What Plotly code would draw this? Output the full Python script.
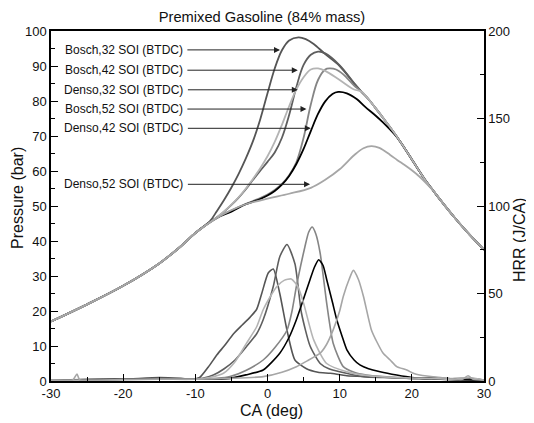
import plotly.graph_objects as go

# ---------------- data ----------------
# shared compression (motoring) part of the pressure traces
motoring_ca = [-30, -25, -20, -15, -12, -10]
motoring_p = [17.0, 21.9, 27.2, 33.6, 38.5, 42.3]

# shared expansion part of the pressure traces
expansion_ca = [13, 14, 15, 16, 17, 18, 19, 20, 21, 22, 23, 24, 26, 28, 30]
expansion_p = [82.7, 80.5, 77.9, 75.2, 72.4, 69.6, 66.5, 63.3, 60.1, 57.0, 54.3, 51.6, 46.5, 41.8, 37.5]

# combustion part of pressure traces (bar)
bosch32_p_ca = [-8, -7, -6, -5, -4, -3, -2, -1, 0, 1, 2, 3, 4.3, 5.3, 6.4, 8, 10, 12]
bosch32_p = [45.6, 48.6, 51.8, 55.3, 59.2, 63.6, 68.6, 74.8, 82.2, 89.3, 94.5, 97.3, 98.2, 97.7, 96.3, 93.4, 90.0, 85.0]

bosch42_p_ca = [-7, -6, -5, -4, -3, -2, -1, 0, 1, 2, 3, 4, 5, 6, 7, 8, 10, 12]
bosch42_p = [46.8, 48.4, 50.3, 52.4, 54.8, 57.5, 60.1, 62.6, 65.3, 69.5, 76.0, 84.0, 90.3, 93.2, 94.1, 93.6, 90.2, 85.1]

denso32_p_ca = [-7, -6, -5, -4, -3, -2, -1, 0, 1, 2, 3, 4, 5, 6, 7, 8, 10, 12]
denso32_p = [46.8, 48.5, 50.4, 52.5, 55.0, 57.8, 60.8, 64.2, 68.3, 73.2, 78.5, 83.3, 86.8, 89.0, 89.3, 88.6, 86.0, 83.3]

bosch52_p_ca = [-7, -5, -3, -1, 0, 1, 2, 3, 4, 5, 6, 7, 8, 8.6, 9.5, 10.5, 12]
bosch52_p = [46.7, 48.8, 50.6, 52.3, 53.3, 54.6, 56.3, 58.8, 62.5, 69.5, 79.0, 86.0, 89.0, 89.3, 89.0, 87.6, 84.4]

denso42_p_ca = [-7, -5, -3, -1, 0, 1, 2, 3, 4, 5, 6, 7, 8, 9, 9.8, 11, 12.4, 13.5, 15, 16, 17, 18]
denso42_p = [46.6, 48.4, 50.5, 52.0, 53.0, 54.3, 56.1, 58.6, 62.0, 66.3, 71.4, 76.3, 79.9, 82.0, 82.6, 82.2, 80.5,
             78.4, 75.8, 73.9, 71.8, 69.5]

denso52_p_ca = [-7, -5, -3, 0, 3, 6, 8, 10, 12, 13.3, 14.4, 15.5, 17, 18, 19, 20, 21, 22]
denso52_p = [46.6, 48.8, 50.5, 52.1, 53.5, 55.2, 57.5, 60.5, 64.5, 66.5, 67.1, 66.6, 64.6, 63.1, 61.7, 60.2, 58.5, 56.5]

# heat release rate traces (J/CA)
bosch32_h_ca = [-30, -25, -20, -15, -12, -10.5, -9.4, -8.2, -7.0, -6.0, -4.7, -3.5, -2.4, -1.5, -0.8, 0.1, 0.8,
                1.7, 2.7, 3.8, 5.4, 7.0, 8.7, 11, 14, 17, 20, 23, 26, 28, 30]
bosch32_h = [0.5, 0.8, 1, 2, 1.5, 1, 2, 8, 15, 20, 27, 32, 36.5, 41, 50, 61.7, 64,
             50, 29, 12, 7, 5, 4.4, 3, 2.5, 2, 1.5, 2, 1, 1.5, 0.5]

bosch42_h_ca = [-30, -20, -12, -9, -7.5, -6, -4.5, -2.9, -1.5, -0.6, 0.8, 1.7, 2.7, 3.8, 4.7, 5.9, 7.3, 8.5,
                10, 13.3, 16, 20, 24, 27, 30]
bosch42_h = [0.5, 1, 1, 1.5, 3.4, 7, 12, 19.7, 27, 35, 54, 71, 78, 67, 39, 20, 10, 7,
             5.3, 2.5, 2, 1.5, 1, 1.5, 0.5]

denso32_h_ca = [-30, -22, -15, -10, -8, -6.1, -4.5, -2.9, -1.5, -0.6, 0.5, 1.3, 2.3, 3.3, 4.2, 5, 6.4, 8.2,
                11, 14, 18, 22, 26, 28, 30]
denso32_h = [0.5, 0.5, 1, 1, 2, 4.4, 11, 21.6, 31, 40.7, 49, 54, 57.5, 58.3, 54, 44.5, 23.5, 10,
             5.3, 3, 2, 1.5, 1, 2, 0.5]

bosch52_h_ca = [-30, -20, -10, -7, -5.2, -3, -0.6, 1, 2.7, 3.4, 4, 4.6, 5.2, 5.7, 6.2, 6.7, 7.3, 8.2, 9.1,
                10.5, 12, 13.7, 16, 20, 25, 30]
bosch52_h = [0.5, 1, 1, 1.5, 2.5, 6, 12, 19, 29, 40, 54, 66, 77, 85, 88, 84, 73, 44.5, 21.6,
             8.2, 5, 3.4, 2.5, 1.5, 1, 0.5]

denso42_h_ca = [-30, -20, -10, -7, -5.2, -3, -0.6, 1.7, 3, 4, 5, 5.9, 6.5, 7.1, 7.7, 8.2, 9, 9.6, 10.3, 11,
                12, 12.8, 14, 15.6, 17.9, 20, 24, 30]
denso42_h = [0.5, 1, 1, 1, 1.5, 3.5, 6.3, 15.9, 25, 35, 47, 58, 65, 69.3, 66, 58, 45, 35, 26, 17.8,
             12, 9.2, 7, 5.3, 3.4, 2, 1, 0.5]

denso52_h_ca = [-30, -27, -26.4, -26, -20, -10, -5, -0.6, 2, 4, 5.5, 7.3, 8.2, 9.1, 10, 10.5, 11.3, 11.9,
                12.6, 13.3, 14.4, 15.2, 16, 17, 17.9, 19.3, 20.2, 21.1, 24, 27, 27.8, 28.5, 30]
denso52_h = [0.5, 0.5, 4, 0.5, 1, 1, 1.5, 2.5, 5, 8.2, 11.5, 15.9, 21, 29.2, 40, 48.3, 58, 63.2,
             58, 48.3, 29.2, 22, 16, 12, 8.2, 6.3, 4.4, 3.4, 2, 1, 3, 1, 0.5]

labels = ["Bosch,32 SOI (BTDC)", "Bosch,42 SOI (BTDC)", "Denso,32 SOI (BTDC)",
          "Bosch,52 SOI (BTDC)", "Denso,42 SOI (BTDC)", "Denso,52 SOI (BTDC)"]
arrow_tip_ca = [1.73, 4.2, 4.2, 5.4, 6.0, 5.9]
arrow_tip_p = [94.6, 88.8, 83.2, 77.7, 72.2, 56.2]
label_ca = -19.9

x_tick_vals = [-30, -20, -10, 0, 10, 20, 30]
x_tick_text = ["-30", "-20", "-10", "0", "10", "20", "30"]
y_tick_vals = [0, 10, 20, 30, 40, 50, 60, 70, 80, 90, 100]
y2_tick_vals = [0, 50, 100, 150, 200]

title_text = "Premixed Gasoline (84% mass)"
x_title = "CA (deg)"
y_title = "Pressure (bar)"
y2_title = "HRR (J/CA)"


def full_trace(ca, p):
    first, last = ca[0], ca[-1]
    xs = [c for c in motoring_ca if c < first] + list(ca) + [c for c in expansion_ca if c > last]
    ys = ([v for c, v in zip(motoring_ca, motoring_p) if c < first] + list(p)
          + [v for c, v in zip(expansion_ca, expansion_p) if c > last])
    return xs, ys


series = [
    # name, pressure ca, pressure, hrr ca, hrr, color
    ("Bosch32", bosch32_p_ca, bosch32_p, bosch32_h_ca, bosch32_h, "#555555"),
    ("Bosch42", bosch42_p_ca, bosch42_p, bosch42_h_ca, bosch42_h, "#5e5e5e"),
    ("Bosch52", bosch52_p_ca, bosch52_p, bosch52_h_ca, bosch52_h, "#858585"),
    ("Denso42", denso42_p_ca, denso42_p, denso42_h_ca, denso42_h, "#000000"),
    ("Denso32", denso32_p_ca, denso32_p, denso32_h_ca, denso32_h, "#b4b4b4"),
    ("Denso52", denso52_p_ca, denso52_p, denso52_h_ca, denso52_h, "#a6a6a6"),
]

fig = go.Figure()
for name, pca, pv, hca, hv, col in series:
    xs, ys = full_trace(pca, pv)
    fig.add_trace(go.Scatter(x=xs, y=ys, mode="lines", name=name,
                             line=dict(color=col, width=1.8, shape="spline", smoothing=1.0),
                             showlegend=False, yaxis="y"))
for name, pca, pv, hca, hv, col in series:
    fig.add_trace(go.Scatter(x=hca, y=hv, mode="lines", name=name + " HRR",
                             line=dict(color=col, width=1.6, shape="spline", smoothing=0.6),
                             showlegend=False, yaxis="y2"))

# The page body has an 8px default margin, so the figure is drawn 8px in/down.
W, H = 526, 415
L, T, R, B = 43, 23, 50, 42
plot_w, plot_h = W - L - R, H - T - B

font_family = "Liberation Sans, Arial, sans-serif"
annotations = []
for lab, tx, ty in zip(labels, arrow_tip_ca, arrow_tip_p):
    annotations.append(dict(x=tx, y=ty, xref="x", yref="y", text=lab,
                            ax=label_ca, ay=ty, axref="x", ayref="y",
                            showarrow=True, arrowhead=2, arrowsize=1.2, arrowwidth=1,
                            arrowcolor="#222222", standoff=0, startstandoff=3,
                            font=dict(size=12, color="#111111", family=font_family)))


# axis titles placed as text annotations (page-pixel targets converted to paper units)
def px_to_paper_x(px):
    return (px - 8 - L) / plot_w


def px_to_paper_y(py):
    return 1 - (py - 8 - T) / plot_h


annotations.append(dict(text=x_title, xref="paper", yref="paper", x=px_to_paper_x(271), y=px_to_paper_y(410),
                        xanchor="center", yanchor="middle", showarrow=False,
                        font=dict(size=16, color="#111111", family=font_family)))
annotations.append(dict(text=y_title, xref="paper", yref="paper", x=px_to_paper_x(18), y=px_to_paper_y(198),
                        xanchor="center", yanchor="middle", showarrow=False, textangle=-90,
                        font=dict(size=16, color="#111111", family=font_family)))
annotations.append(dict(text=y2_title, xref="paper", yref="paper", x=px_to_paper_x(519), y=px_to_paper_y(240),
                        xanchor="center", yanchor="middle", showarrow=False, textangle=-90,
                        font=dict(size=16, color="#111111", family=font_family)))

fig.update_layout(
    width=W, height=H,
    margin=dict(l=L, r=R, t=T, b=B, autoexpand=False),
    paper_bgcolor="white", plot_bgcolor="white",
    font=dict(family=font_family, color="#111111"),
    title=dict(text=title_text, x=(262 - 8) / W, xref="container", y=1 - (17 - 8) / H, yanchor="middle",
               xanchor="center", font=dict(size=14.7, color="#111111")),
    xaxis=dict(range=[-30, 30], tickvals=x_tick_vals, ticktext=x_tick_text, ticks="inside", ticklen=7,
               tickwidth=1, tickcolor="black", showline=True, linecolor="black", linewidth=1.5,
               mirror=True, showgrid=False, zeroline=False, automargin=False,
               minor=dict(ticks="inside", ticklen=4, dtick=5, tick0=-30, tickcolor="black"),
               tickfont=dict(size=13)),
    yaxis=dict(range=[0, 100], tickvals=y_tick_vals, ticks="inside", ticklen=7,
               tickwidth=1, tickcolor="black", showline=True, linecolor="black", linewidth=1.5,
               showgrid=False, zeroline=False, automargin=False,
               minor=dict(ticks="inside", ticklen=4, dtick=5, tick0=0, tickcolor="black"),
               tickfont=dict(size=13)),
    yaxis2=dict(range=[0, 200], tickvals=y2_tick_vals, ticks="inside", ticklen=7,
                tickwidth=1, tickcolor="black", showline=True, linecolor="black", linewidth=1.5,
                overlaying="y", side="right", showgrid=False, zeroline=False, automargin=False,
                minor=dict(ticks="inside", ticklen=4, dtick=25, tick0=0, tickcolor="black"),
                tickfont=dict(size=13)),
    annotations=annotations,
)

fig.write_html("out.html")
